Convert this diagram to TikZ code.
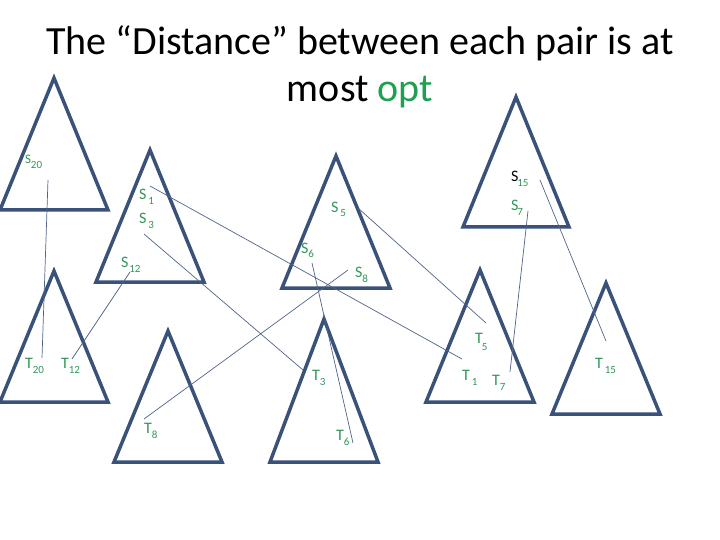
\documentclass[tikz,border=0pt]{standalone}
\usepackage{fontspec}
\setmainfont{Carlito}
\definecolor{tri}{RGB}{58,82,122}
\definecolor{conn}{RGB}{80,100,135}
\definecolor{labgreen}{RGB}{48,150,88}
\definecolor{optgreen}{RGB}{30,160,80}
\newcommand{\sbx}[1]{\raisebox{-5pt}{\fontsize{11}{11}\selectfont #1}}
\tikzset{
  tribox/.style={draw=tri,line width=3.5pt,line join=miter},
  link/.style={draw=conn,line width=0.7pt},
  lab/.style={anchor=base west,inner sep=0pt,outer sep=0pt,text=labgreen,font=\fontsize{16}{16}\selectfont},
  ttl/.style={anchor=base,inner sep=0pt,font=\fontsize{40}{40}\selectfont}
}
\begin{document}
\begin{tikzpicture}[x=1pt,y=-1pt]
\useasboundingbox (0,0) rectangle (720,540);
% title
\node[ttl] (title1) at (360,55) {The “Distance” between each pair is at};
\node[ttl] (title2) at (360,102) {most \textcolor{optgreen}{opt}};
% triangles
\draw[tribox] (54,78) -- (108,210) -- (0,210) -- cycle;
\draw[tribox] (150,150) -- (204,282) -- (96,282) -- cycle;
\draw[tribox] (336,156) -- (390,288) -- (282,288) -- cycle;
\draw[tribox] (516,97) -- (569,227) -- (463,227) -- cycle;
\draw[tribox] (54,271) -- (108,402) -- (0,402) -- cycle;
\draw[tribox] (168,331) -- (222,462) -- (114,462) -- cycle;
\draw[tribox] (324,319) -- (378,462) -- (270,462) -- cycle;
\draw[tribox] (480,270) -- (534,402) -- (426,402) -- cycle;
\draw[tribox] (606,283) -- (660,414) -- (552,414) -- cycle;
% labels
\node[lab] (s20) at (25,164) {{\fontsize{13}{13}\selectfont S}\sbx{20}};
\node[lab] (s1) at (139,200) {S\hspace{2pt}\sbx{1}};
\node[lab] (s3) at (139,224) {S\hspace{2pt}\sbx{3}};
\node[lab] (s12) at (121,267) {S\hspace{1pt}\sbx{12}};
\node[lab] (s5) at (331,212) {S\hspace{2pt}\sbx{5}};
\node[lab] (s6) at (301,253) {S\sbx{6}};
\node[lab] (s8) at (355,277) {S\sbx{8}};
\node[lab] (s15) at (511,182) {\textcolor{black}{S}\hspace{-1pt}\sbx{15}};
\node[lab] (s7) at (511,211) {S\hspace{-1pt}\sbx{7}};
\node[lab] (t20) at (25,368) {T\sbx{20}};
\node[lab] (t12) at (61,368) {T\sbx{12}};
\node[lab] (t8) at (144,433) {T\sbx{8}};
\node[lab] (t3) at (312,380) {T\sbx{3}};
\node[lab] (t6) at (336,440) {T\sbx{6}};
\node[lab] (t5) at (475,343) {T\hspace{-1pt}\raisebox{-7pt}{\fontsize{11}{11}\selectfont 5}};
\node[lab] (t1) at (462,380) {T\hspace{2pt}\sbx{1}};
\node[lab] (t7) at (492,385) {T\sbx{7}};
\node[lab] (t15) at (595,368) {T\hspace{2pt}\sbx{15}};
% connector ends
\coordinate (a20) at (48,180);  \coordinate (b20) at (42,358);
\coordinate (a1) at (150,186);  \coordinate (b1) at (462,359);
\coordinate (a3) at (144,234);  \coordinate (b3) at (303,370);
\coordinate (a12) at (130,272); \coordinate (b12) at (72,359);
\coordinate (a5) at (358,208);  \coordinate (b5) at (486,323);
\coordinate (a6) at (312,263);  \coordinate (b6) at (353,443);
\coordinate (a8) at (348,270);  \coordinate (b8) at (144,419);
\coordinate (a7) at (528,211);  \coordinate (b7) at (510,372);
\coordinate (a15) at (540,180); \coordinate (b15) at (606,341);
\draw[link] (a20) -- (b20);
\draw[link] (a1) -- (b1);
\draw[link] (a3) -- (b3);
\draw[link] (a12) -- (b12);
\draw[link] (a5) -- (b5);
\draw[link] (a6) -- (b6);
\draw[link] (a8) -- (b8);
\draw[link] (a7) -- (b7);
\draw[link] (a15) -- (b15);
\end{tikzpicture}
\end{document}
